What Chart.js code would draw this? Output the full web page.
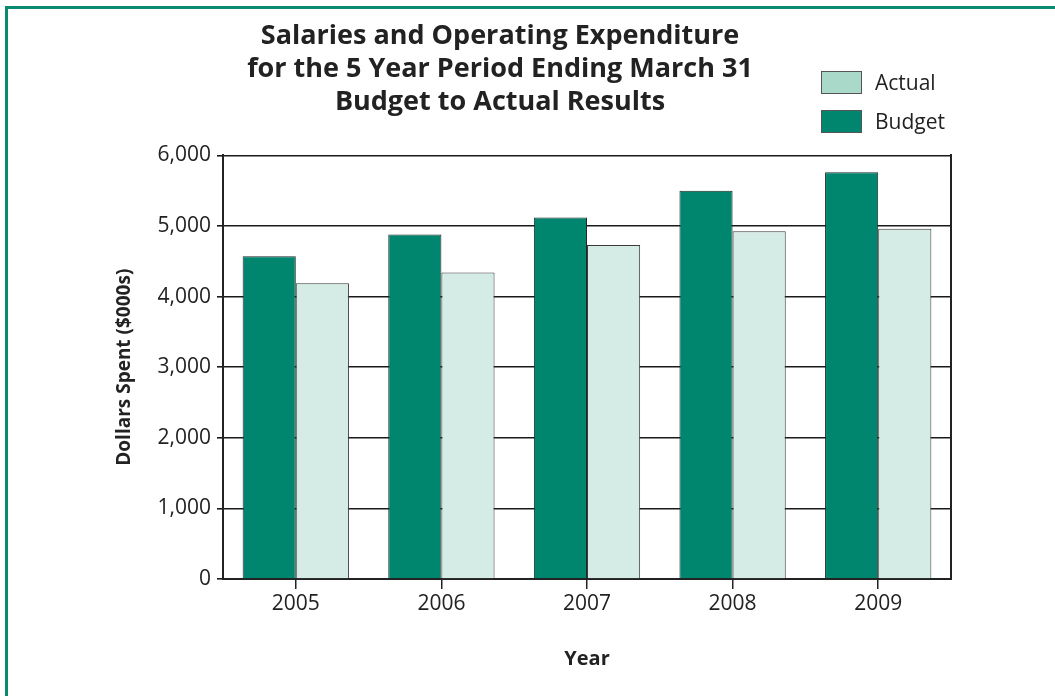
<!DOCTYPE html>
<html>
<head>
<meta charset="utf-8">
<script src="https://cdn.jsdelivr.net/npm/chart.js@4.4.1/dist/chart.umd.min.js"></script>
<style>
  html, body { margin: 0; padding: 0; background: #ffffff; }
  #wrap { position: relative; width: 1055px; height: 696px; overflow: hidden; }
  #frame { position: absolute; left: 5px; top: 6px; right: -10px; bottom: -10px;
           border-top: 3px solid #0b8a72; border-left: 3px solid #0b8a72; }
  #c { position: absolute; left: 0; top: 0; }
  .leg { position: absolute; left: 821px; font-family: "Open Sans", sans-serif; font-size: 21px; color: #222; }
  .leg .sw { position: absolute; left: 0; top: 0; width: 41px; height: 23px; box-sizing: border-box; border: 1px solid #555; }
  .leg .tx { position: absolute; left: 54px; top: -3px; white-space: nowrap; line-height: 28px; }
</style>
</head>
<body>
<div id="wrap">
  <div id="frame"></div>
  <canvas id="c" width="1055" height="696"></canvas>
  <div id="legend"></div>
</div>
<script>
const categories = ["2005", "2006", "2007", "2008", "2009"];
const budgetValues = [4570, 4880, 5120, 5500, 5760];
const actualValues = [4190, 4340, 4730, 4925, 4960];
const titleLines = ["Salaries and Operating Expenditure", "for the 5 Year Period Ending March 31", "Budget to Actual Results"];
const yAxisTitle = "Dollars Spent ($000s)";
const xAxisTitle = "Year";
const legendNames = ["Actual", "Budget"];
const legendColors = ["#a9d9c9", "#00856f"];

// HTML legend
const legendEl = document.getElementById('legend');
legendNames.forEach((name, i) => {
  const d = document.createElement('div');
  d.className = 'leg';
  d.style.top = (71 + i * 39) + 'px';
  d.innerHTML = '<div class="sw" style="background:' + legendColors[i] + '"></div><div class="tx">' + name + '</div>';
  legendEl.appendChild(d);
});

const FONT = "'Open Sans', sans-serif";
Chart.defaults.font.family = FONT;
Chart.defaults.color = '#222';

new Chart(document.getElementById('c'), {
  type: 'bar',
  data: {
    labels: categories,
    datasets: [
      { label: 'Budget', data: budgetValues, backgroundColor: '#00856f', borderColor: '#1f2a27', borderWidth: 1,
        categoryPercentage: 0.73, barPercentage: 1.0 },
      { label: 'Actual', data: actualValues, backgroundColor: '#d5ebe5', borderColor: '#3a3a3a', borderWidth: 1,
        categoryPercentage: 0.73, barPercentage: 1.0 }
    ]
  },
  options: {
    responsive: false,
    animation: false,
    locale: 'en-US',
    layout: { padding: { left: 0, right: 55, top: 0, bottom: 0 } },
    plugins: {
      legend: { display: false },
      tooltip: { enabled: false },
      title: {
        display: true,
        text: titleLines,
        color: '#222',
        font: { family: FONT, size: 27, weight: 'bold', lineHeight: 1.215 },
        padding: { top: 20, bottom: 37 }
      }
    },
    scales: {
      x: {
        offset: true,
        afterFit: (s) => { s.height = 696 - 579; },
        grid: { display: true, drawOnChartArea: false, drawTicks: true, tickLength: 10, offset: false, color: '#222', lineWidth: 1.5 },
        border: { display: true, color: '#222', width: 2 },
        ticks: { font: { family: FONT, size: 21 }, color: '#222', padding: 2, maxRotation: 0 },
        title: { display: true, text: xAxisTitle, color: '#222', font: { family: FONT, size: 20, weight: 'bold' }, padding: { bottom: 25 } }
      },
      y: {
        min: 0, max: 6000,
        afterFit: (s) => { s.width = 223; },
        grid: { color: '#1a1a1a', lineWidth: 1.6, tickLength: 6, drawTicks: true },
        border: { display: true, color: '#222', width: 2 },
        ticks: { stepSize: 1000, font: { family: FONT, size: 21 }, color: '#222', padding: 6 },
        title: { display: true, text: yAxisTitle, color: '#222', font: { family: FONT, size: 19, weight: 'bold' }, padding: { top: 113 } }
      },
      y2: {
        position: 'right',
        min: 0, max: 6000,
        afterFit: (s) => { s.width = 49; },
        grid: { display: false, drawOnChartArea: false, drawTicks: false },
        border: { display: true, color: '#222', width: 2 },
        ticks: { display: false }
      }
    }
  }
});
</script>
</body>
</html>
